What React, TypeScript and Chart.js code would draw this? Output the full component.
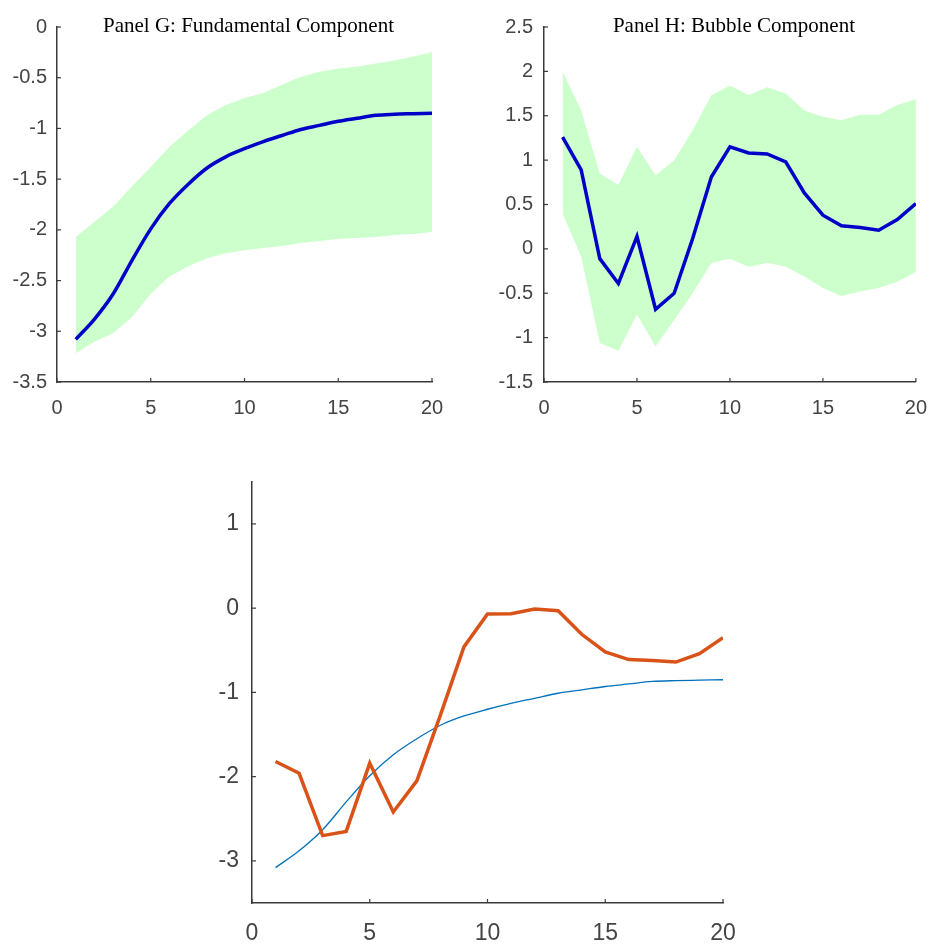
import React, { useEffect, useRef } from "react";
import { Chart, registerables } from "chart.js";

Chart.register(...registerables);

// ---------------- data ----------------
const steps = [1, 2, 3, 4, 5, 6, 7, 8, 9, 10, 11, 12, 13, 14, 15, 16, 17, 18, 19, 20];

const fundamental = [-3.08, -2.88, -2.63, -2.3, -1.99, -1.74, -1.55, -1.39, -1.28, -1.2, -1.13, -1.07, -1.01, -0.97, -0.93, -0.9, -0.87, -0.86, -0.855, -0.85];
const fundamentalUpper = [-2.07, -1.92, -1.77, -1.57, -1.38, -1.18, -1.02, -0.87, -0.77, -0.7, -0.65, -0.57, -0.49, -0.44, -0.41, -0.39, -0.36, -0.33, -0.29, -0.25];
const fundamentalLower = [-3.22, -3.1, -3.02, -2.86, -2.63, -2.46, -2.36, -2.28, -2.23, -2.2, -2.18, -2.16, -2.13, -2.11, -2.09, -2.08, -2.07, -2.05, -2.04, -2.02];

const bubble = [1.26, 0.89, -0.11, -0.39, 0.14, -0.68, -0.5, 0.12, 0.81, 1.15, 1.08, 1.07, 0.98, 0.63, 0.38, 0.26, 0.24, 0.21, 0.33, 0.51];
const bubbleUpper = [2.0, 1.56, 0.85, 0.72, 1.15, 0.83, 1.0, 1.34, 1.73, 1.84, 1.73, 1.82, 1.75, 1.56, 1.49, 1.45, 1.51, 1.51, 1.62, 1.69];
const bubbleLower = [0.4, -0.09, -1.06, -1.15, -0.74, -1.1, -0.8, -0.5, -0.16, -0.11, -0.2, -0.16, -0.2, -0.31, -0.44, -0.53, -0.48, -0.44, -0.37, -0.26];

const total = [-1.82, -1.96, -2.7, -2.65, -1.84, -2.42, -2.05, -1.27, -0.46, -0.07, -0.065, -0.01, -0.03, -0.31, -0.52, -0.61, -0.62, -0.64, -0.54, -0.35];

const titleG = "Panel G: Fundamental Component";
const titleH = "Panel H: Bubble Component";
const bottomYTicks = [-3, -2, -1, 0, 1];
const xTicks = [0, 5, 10, 15, 20];

// ---------------- helpers ----------------
const AXIS = "#3a3a3a";
const LABEL = "#444444";
const BAND = "rgb(204,255,204)";
const NAVY = "#0000c8";

const pts = (vals: number[]) => steps.map((s, i) => ({ x: s, y: vals[i] }));

const inwardTicks = {
  id: "inwardTicks",
  afterDraw(chart: any) {
    const { ctx, chartArea, scales } = chart;
    ctx.save();
    ctx.strokeStyle = AXIS;
    ctx.lineWidth = 1.2;
    const len = 4;
    scales.x.ticks.forEach((t: any) => {
      const px = scales.x.getPixelForValue(t.value);
      ctx.beginPath();
      ctx.moveTo(px, chartArea.bottom);
      ctx.lineTo(px, chartArea.bottom - len);
      ctx.stroke();
    });
    scales.y.ticks.forEach((t: any) => {
      const py = scales.y.getPixelForValue(t.value);
      ctx.beginPath();
      ctx.moveTo(chartArea.left, py);
      ctx.lineTo(chartArea.left + len, py);
      ctx.stroke();
    });
    ctx.restore();
  },
};

const panelTitle = {
  id: "panelTitle",
  afterDraw(chart: any, _args: any, opts: any) {
    if (!opts || !opts.text) return;
    const { ctx, chartArea } = chart;
    ctx.save();
    ctx.font = '21px "Liberation Serif", "Times New Roman", serif';
    ctx.fillStyle = "#000";
    ctx.textAlign = "center";
    ctx.textBaseline = "alphabetic";
    ctx.fillText(opts.text, (chartArea.left + chartArea.right) / 2 + (opts.dx || 0), chartArea.top + (opts.dy || 0));
    ctx.restore();
  },
};

const fmt = (v: any) => String(Math.round(Number(v) * 100) / 100);

function makeOptions(cfg: {
  ymin: number;
  ymax: number;
  ystep?: number;
  yTickValues?: number[];
  yWidth: number;
  xHeight: number;
  padding: any;
  fontSize: number;
  yPad: number;
  xPad: number;
  title?: string;
  titleDx?: number;
  titleDy?: number;
}) {
  const font = { family: '"Liberation Sans", Arial, sans-serif', size: cfg.fontSize };
  return {
    responsive: false,
    animation: false as const,
    layout: { padding: cfg.padding },
    plugins: {
      legend: { display: false },
      tooltip: { enabled: false },
      panelTitle: { text: cfg.title, dx: cfg.titleDx, dy: cfg.titleDy },
    },
    scales: {
      x: {
        type: "linear" as const,
        min: 0,
        max: 20,
        afterBuildTicks: (scale: any) => {
          scale.ticks = xTicks.map((v) => ({ value: v }));
        },
        afterFit: (scale: any) => {
          scale.height = cfg.xHeight;
        },
        grid: { display: true, drawOnChartArea: false, drawTicks: false },
        border: { display: true, color: AXIS, width: 1.5 },
        ticks: { color: LABEL, font, padding: cfg.xPad, maxRotation: 0, autoSkip: false, callback: fmt },
      },
      y: {
        type: "linear" as const,
        min: cfg.ymin,
        max: cfg.ymax,
        afterBuildTicks: cfg.yTickValues
          ? (scale: any) => {
              scale.ticks = cfg.yTickValues!.map((v) => ({ value: v }));
            }
          : undefined,
        afterFit: (scale: any) => {
          scale.width = cfg.yWidth;
        },
        grid: { display: true, drawOnChartArea: false, drawTicks: false },
        border: { display: true, color: AXIS, width: 1.5 },
        ticks: { color: LABEL, font, padding: cfg.yPad, stepSize: cfg.ystep, autoSkip: false, callback: fmt },
      },
    },
  };
}

function ChartCanvas({ config, style, width, height }: any) {
  const ref = useRef<HTMLCanvasElement>(null);
  useEffect(() => {
    if (!ref.current) return;
    const chart = new Chart(ref.current, config);
    return () => chart.destroy();
  }, []);
  return <canvas ref={ref} width={width} height={height} style={{ position: "absolute", ...style }} />;
}

const bandDatasets = (mid: number[], up: number[], lo: number[], smooth: boolean) => [
  {
    data: pts(mid),
    borderColor: NAVY,
    borderWidth: 3.5,
    pointRadius: 0,
    tension: 0,
    cubicInterpolationMode: smooth ? ("monotone" as const) : ("default" as const),
    fill: false,
    order: 0,
  },
  {
    data: pts(up),
    borderColor: "rgba(0,0,0,0)",
    borderWidth: 0,
    pointRadius: 0,
    fill: false,
    order: 1,
  },
  {
    data: pts(lo),
    borderColor: "rgba(0,0,0,0)",
    borderWidth: 0,
    pointRadius: 0,
    backgroundColor: BAND,
    fill: 1,
    order: 1,
  },
];

export default function App() {
  const cfgG = {
    type: "line" as const,
    data: { datasets: bandDatasets(fundamental, fundamentalUpper, fundamentalLower, true) },
    options: makeOptions({
      ymin: -3.5,
      ymax: 0,
      ystep: 0.5,
      yWidth: 57,
      xHeight: 45,
      padding: { left: 0, top: 27, right: 38, bottom: 13 },
      fontSize: 20,
      yPad: 10,
      xPad: 14,
      title: titleG,
      titleDx: 4,
      titleDy: 5,
    }),
    plugins: [inwardTicks, panelTitle],
  };
  const cfgH = {
    type: "line" as const,
    data: { datasets: bandDatasets(bubble, bubbleUpper, bubbleLower, false) },
    options: makeOptions({
      ymin: -1.5,
      ymax: 2.5,
      ystep: 0.5,
      yWidth: 64,
      xHeight: 45,
      padding: { left: 0, top: 27, right: 14, bottom: 13 },
      fontSize: 20,
      yPad: 11,
      xPad: 14,
      title: titleH,
      titleDx: 4,
      titleDy: 5,
    }),
    plugins: [inwardTicks, panelTitle],
  };
  const cfgB = {
    type: "line" as const,
    data: {
      datasets: [
        {
          data: pts(total),
          borderColor: "#d95319",
          borderWidth: 3.5,
          pointRadius: 0,
          tension: 0,
          fill: false,
          order: 0,
        },
        {
          data: pts(fundamental),
          borderColor: "#0072bd",
          borderWidth: 1.3,
          pointRadius: 0,
          cubicInterpolationMode: "monotone" as const,
          fill: false,
          order: 1,
        },
      ],
    },
    options: makeOptions({
      ymin: -3.5,
      ymax: 1.5,
      yTickValues: bottomYTicks,
      yWidth: 62,
      xHeight: 42,
      padding: { left: 0, top: 20, right: 47, bottom: 0 },
      fontSize: 23,
      yPad: 13,
      xPad: 17,
    }),
    plugins: [inwardTicks],
  };

  return (
    <div style={{ position: "absolute", left: 0, top: 0, width: 941, height: 945, background: "#fff" }}>
      <ChartCanvas config={cfgG} width={470} height={440} style={{ left: 0, top: 0 }} />
      <ChartCanvas config={cfgH} width={461} height={440} style={{ left: 480, top: 0 }} />
      <ChartCanvas config={cfgB} width={580} height={490} style={{ left: 190, top: 455 }} />
    </div>
  );
}
